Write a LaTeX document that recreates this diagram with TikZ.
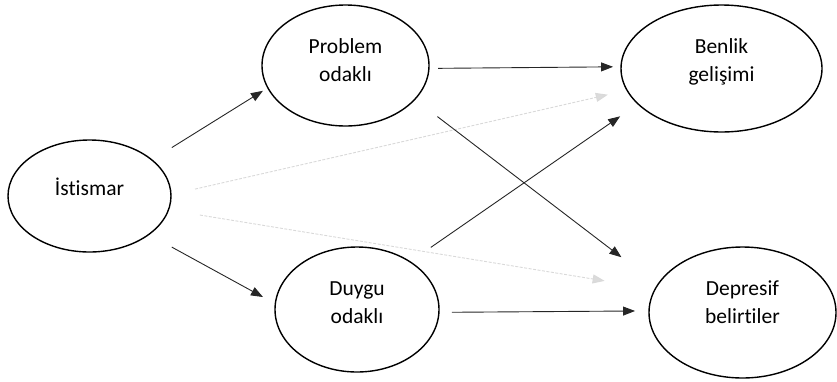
\documentclass[tikz,border=0pt]{standalone}
\usepackage{fontspec}
\setmainfont[Ligatures={NoCommon,NoRequired,NoContextual}]{Carlito}
\usetikzlibrary{shapes.geometric,arrows.meta}
\begin{document}
\begin{tikzpicture}[x=1pt,y=-1pt,
  ell/.style={draw=black, line width=1.4pt, ellipse, inner sep=0pt, outer sep=0pt},
  lab/.style={font=\fontsize{21.5}{28}\selectfont, align=center, inner sep=0pt, text=black},
  conn/.style={draw=black!85, line width=0.9pt, -{Triangle[length=12pt,width=9pt]}},
  faint/.style={draw=black!15, line width=0.9pt, dash pattern=on 3pt off 1.5pt, -{Triangle[length=12pt,width=9pt,fill=black!14]}}
]
\useasboundingbox (0,0) rectangle (837,381);
\node[ell, minimum width=163pt, minimum height=112pt, label={[lab,name=tI,yshift=9.5pt]center:İstismar}] (I) at (89.5,196) {};
\node[ell, minimum width=167pt, minimum height=121pt, label={[lab,name=tP,yshift=5.5pt]center:Problem\\odaklı}] (P) at (345.5,65.5) {};
\node[ell, minimum width=164pt, minimum height=125pt, label={[lab,name=tD,yshift=7pt]center:Duygu\\odaklı}] (D) at (357,309.5) {};
\node[ell, minimum width=201pt, minimum height=127pt, label={[lab,name=tB,yshift=6.5pt]center:Benlik\\gelişimi}] (B) at (721.5,68.5) {};
\node[ell, minimum width=187pt, minimum height=131pt, label={[lab,name=tR,yshift=10pt]center:Depresif\\belirtiler}] (R) at (742.5,312.5) {};
\draw[conn, shorten <=23.5pt, shorten >=5.8pt] (I.30.9) -- (P.196.2);
\draw[conn, shorten <=26.3pt, shorten >=14.1pt] (I.327.2) -- (D.176.0);
\draw[conn, shorten <=9.1pt, shorten >=8.0pt] (P.358.25) -- (B.179.1);
\draw[faint, shorten <=24.7pt, shorten >=19.8pt] (I.1.8) -- (B.193.2);
\draw[conn, shorten <=28.5pt, shorten >=45.6pt] (P.334.7) -- (R.162.75);
\draw[conn, shorten <=25.3pt, shorten >=21.8pt] (D.42.8) -- (B.203.7);
\draw[faint, shorten <=31.9pt, shorten >=51.2pt] (I.350.1) -- (R.165.9);
\draw[conn, shorten <=13pt, shorten >=14pt] (D.358.95) -- (R.179.08);
\end{tikzpicture}
\end{document}
